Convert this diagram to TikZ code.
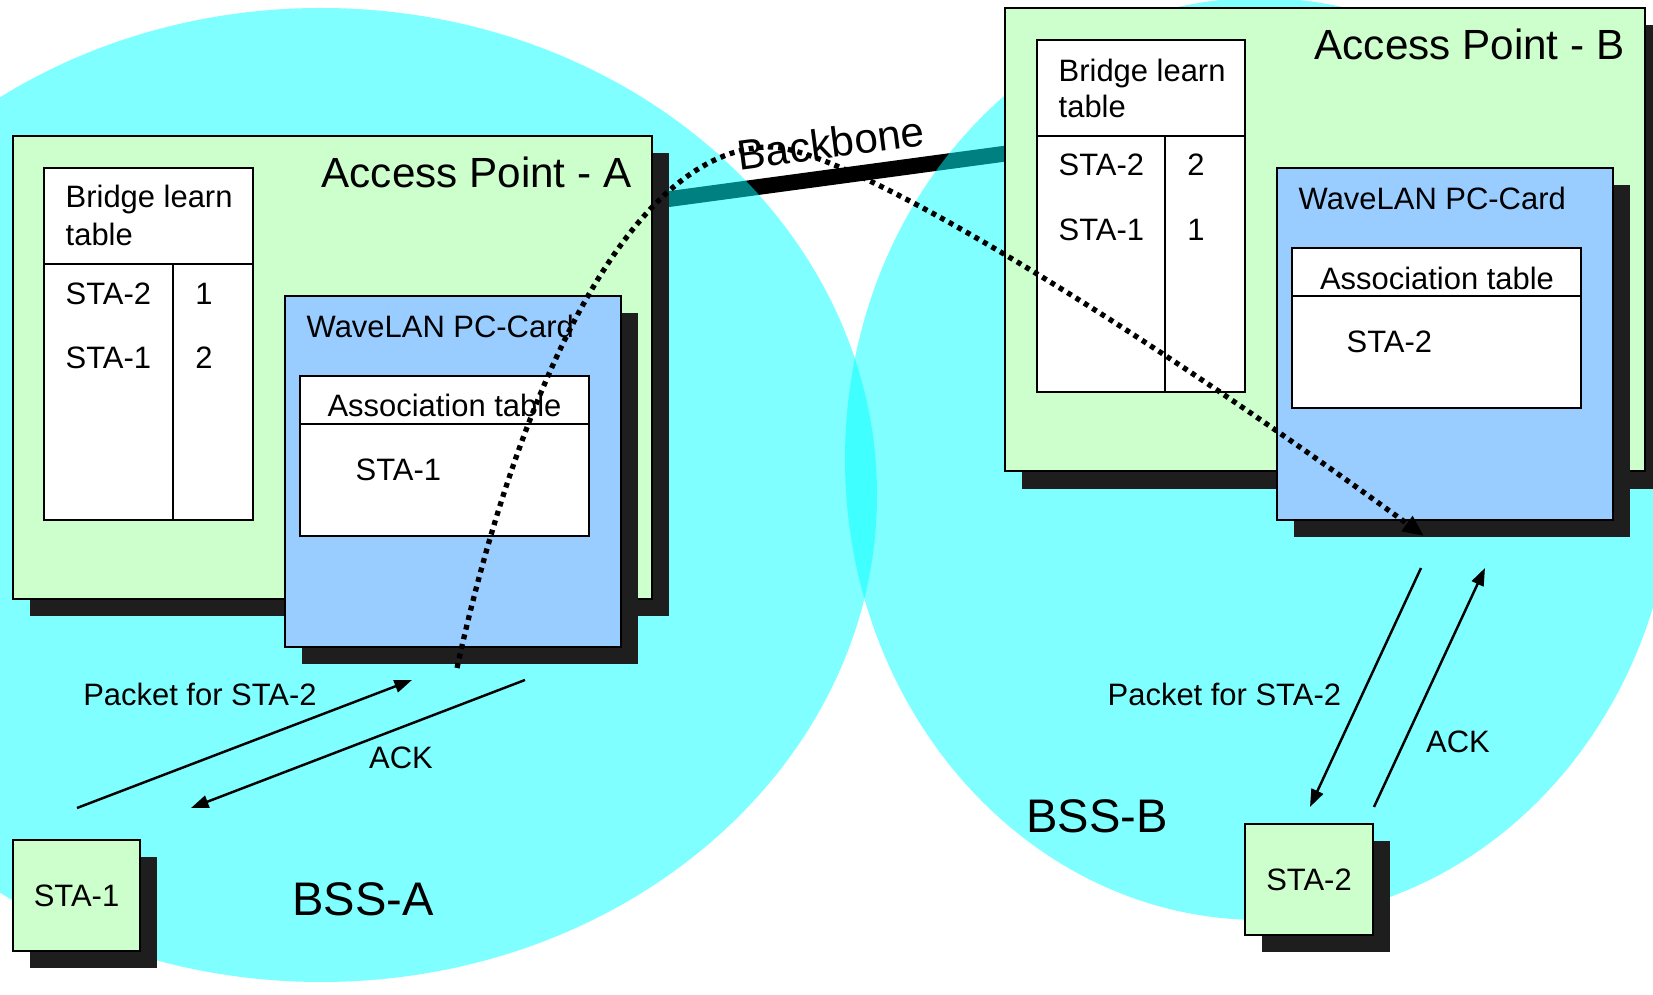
\documentclass[tikz,border=0pt]{standalone}
\usepackage{fontspec}
\setmainfont{Liberation Sans}
\usetikzlibrary{arrows.meta}
\definecolor{apgreen}{RGB}{204,255,204}
\definecolor{cardblue}{RGB}{153,204,255}
\definecolor{shadowgray}{RGB}{30,30,30}
\definecolor{bsscyan}{RGB}{0,255,255}

\begin{document}
\begin{tikzpicture}[x=0.01cm,y=-0.01cm,
    box/.style={draw,line width=0.8pt},
    lbl/.style={inner sep=0pt,font=\fontsize{8.8}{10}\selectfont},
    title/.style={inner sep=0pt,font=\fontsize{12}{14}\selectfont},
    bss/.style={inner sep=0pt,font=\fontsize{13.4}{15}\selectfont},
    msg/.style={line width=0.7pt,-{Triangle[length=5pt,width=3.6pt]}},
    trace/.style={line width=1.5pt,dash pattern=on 1.4pt off 1.4pt,-{Triangle[length=6pt,width=5pt]}}]

        \clip (0,0) rectangle (1653,995);

        \coordinate (bbA) at (640,203);
        \coordinate (bbB) at (1010,153);
        \draw [line width=4.5pt] (bbA) -- (bbB);

        \fill [bsscyan,fill opacity=0.5] (321,495) ellipse (556 and 487);
        \fill [bsscyan,fill opacity=0.5] (1260,459) ellipse (415 and 461);

        \fill [shadowgray] (30,153) rectangle (669,616);
        \draw [box,fill=apgreen] (13,136) rectangle (652,599);
        \node [title,anchor=east] (apAname) at (632,172) {Access Point - A};

        \draw [box,fill=white] (44,168) rectangle (253,520);
        \draw [box] (44,264) -- (253,264) (173,264) -- (173,520);
        \node [lbl,anchor=base west] (brA1) at (65,208) {Bridge learn};
        \node [lbl,anchor=base west] (brA2) at (65,246) {table};
        \node [lbl,anchor=west] (brAsta2) at (65,294) {STA-2};
        \node [lbl,anchor=west] (brAsta1) at (65,357.5) {STA-1};
        \node [lbl] (brAport2) at (204,294) {1};
        \node [lbl] (brAport1) at (204,357.5) {2};

        \fill [shadowgray] (302,313) rectangle (638,664);
        \draw [box,fill=cardblue] (285,296) rectangle (621,647);
        \node [lbl,anchor=west] (cardA) at (306,326) {WaveLAN PC-Card};
        \draw [box,fill=white] (300,376) rectangle (589,536);
        \draw [box] (300,424) -- (589,424);
        \node [lbl] (asA) at (444.5,405.7) {Association table};
        \node [lbl,anchor=west] (asAsta1) at (355,470) {STA-1};

        \fill [shadowgray] (1022,25) rectangle (1662,489);
        \draw [box,fill=apgreen] (1005,8) rectangle (1645,471);
        \node [title,anchor=east] (apBname) at (1625,44) {Access Point - B};

        \draw [box,fill=white] (1037,40) rectangle (1245,392);
        \draw [box] (1037,136) -- (1245,136) (1165,136) -- (1165,392);
        \node [lbl,anchor=base west] (brB1) at (1058,81.4) {Bridge learn};
        \node [lbl,anchor=base west] (brB2) at (1058,118) {table};
        \node [lbl,anchor=west] (brBsta2) at (1058,165) {STA-2};
        \node [lbl,anchor=west] (brBsta1) at (1058,229.5) {STA-1};
        \node [lbl] (brBport2) at (1196,165) {2};
        \node [lbl] (brBport1) at (1196,229.5) {1};

        \fill [shadowgray] (1294,185) rectangle (1630,537);
        \draw [box,fill=cardblue] (1277,168) rectangle (1613,520);
        \node [lbl,anchor=west] (cardB) at (1298,198) {WaveLAN PC-Card};
        \draw [box,fill=white] (1292,248) rectangle (1581,408);
        \draw [box] (1292,296) -- (1581,296);
        \node [lbl] (asB) at (1437,278.6) {Association table};
        \node [lbl,anchor=west] (asBsta2) at (1346,342) {STA-2};

        \fill [shadowgray] (30,857) rectangle (157,968);
        \node [box,lbl,fill=apgreen,minimum width=1.27cm,minimum height=1.11cm] (sta1) at (76.5,895.5) {STA-1};
        \fill [shadowgray] (1262,841) rectangle (1390,952);
        \node [box,lbl,fill=apgreen,minimum width=1.28cm,minimum height=1.11cm] (sta2) at (1309,879.5) {STA-2};

        \node [title,rotate=7.5] (backbone) at (831,143) {Backbone};
        \node [bss] (bssA) at (363,899) {BSS-A};
        \node [bss] (bssB) at (1097,816) {BSS-B};

        \coordinate (pktA1) at (77,808);
        \coordinate (pktA2) at (412,680);
        \coordinate (ackA1) at (525,680);
        \coordinate (ackA2) at (191,808);
        \draw [msg] (pktA1) -- (pktA2);
        \draw [msg] (ackA1) -- (ackA2);
        \node [lbl,anchor=west] (pktAlbl) at (82.6,694) {Packet for STA-2};
        \node [lbl] (ackAlbl) at (401,758) {ACK};

        \coordinate (pktB1) at (1421,568);
        \coordinate (pktB2) at (1310,807);
        \coordinate (ackB1) at (1374,807);
        \coordinate (ackB2) at (1485,568);
        \draw [msg] (pktB1) -- (pktB2);
        \draw [msg] (ackB1) -- (ackB2);
        \node [lbl,anchor=west] (pktBlbl) at (1107,694) {Packet for STA-2};
        \node [lbl] (ackBlbl) at (1458,742) {ACK};

        \coordinate (dotA) at (457,668);
        \coordinate (peak) at (770,147);
        \coordinate (dotB) at (1424,536);
        \draw [trace] (dotA) .. controls (525,360) and (640,147) .. (peak) .. controls (840,147) and (1100,300) .. (dotB);
      \end{tikzpicture}
\end{document}
